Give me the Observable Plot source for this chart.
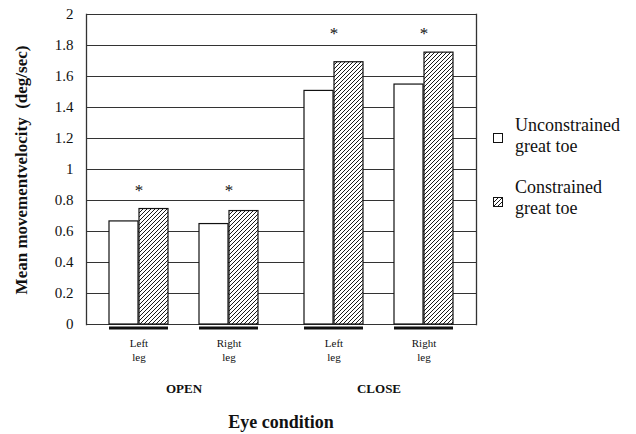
<!DOCTYPE html>
<html><head><meta charset="utf-8">
<script src="https://cdn.jsdelivr.net/npm/d3@7"></script>
<script src="https://cdn.jsdelivr.net/npm/@observablehq/plot@0.6"></script>
<style>
body{margin:0;background:#fff;font-family:"Liberation Serif","Times New Roman",serif;color:#111;}
#wrap{position:relative;width:636px;height:434px;overflow:hidden;}
#ytitle{position:absolute;left:22px;top:170px;transform:translate(-50%,-50%) rotate(-90deg);white-space:nowrap;font-family:"Liberation Serif",serif;font-weight:bold;font-size:17px;line-height:20px;}
#caption{position:absolute;left:86px;width:390px;top:410px;text-align:center;font-family:"Liberation Serif",serif;font-weight:bold;font-size:18px;line-height:24px;}
.lg-box{position:absolute;width:8px;height:8px;border:1.3px solid #111;}
.lg-text{position:absolute;left:515px;font-family:"Liberation Serif",serif;font-size:18px;line-height:21px;white-space:nowrap;}
</style></head>
<body>
<svg width="0" height="0" style="position:absolute"><defs>
<pattern id="hatch" patternUnits="userSpaceOnUse" width="4" height="4">
<rect width="4" height="4" fill="white"/>
<path d="M-1,1 l2,-2 M0,4 l4,-4 M3,5 l2,-2" stroke="black" stroke-width="0.9"/>
</pattern></defs></svg>
<div id="wrap">
<div id="chart"></div>
<div id="ytitle">Mean movementvelocity&nbsp;&nbsp;(deg/sec)</div>
<div id="caption">Eye condition</div>
<div class="lg-box" style="left:493px;top:133px;background:#fff"></div>
<div class="lg-text" style="top:115px">Unconstrained<br>great toe</div>
<div class="lg-box" style="left:493px;top:197px;"><svg width="8" height="8" style="display:block"><rect width="8" height="8" fill="url(#hatch)"/></svg></div>
<div class="lg-text" style="top:177px">Constrained<br>great toe</div>
</div>
<script>
const eyes = ["OPEN", "CLOSE"];
const legs = ["Left leg", "Right leg"];
const conditions = ["Unconstrained great toe", "Constrained great toe"];
const unconstrained = [0.665, 0.648, 1.507, 1.548];
const constrained = [0.745, 0.732, 1.692, 1.754];
const sigY = [0.875, 1.89];
const yTicks = [0, 0.2, 0.4, 0.6, 0.8, 1, 1.2, 1.4, 1.6, 1.8, 2];

const rows = eyes.flatMap((e, i) => legs.map((l, j) => ({
  eye: e, leg: l, u: unconstrained[i * 2 + j], c: constrained[i * 2 + j], s: sigY[i]
})));

const chart = Plot.plot({
  width: 636, height: 408,
  marginLeft: 86, marginRight: 160, marginTop: 14, marginBottom: 84,
  style: {fontFamily: "'Liberation Serif', 'Times New Roman', serif", fontSize: "15px", color: "#111", background: "white"},
  fx: {domain: eyes, padding: 0, axis: null},
  x: {domain: legs, paddingInner: 0.34, paddingOuter: 0.247, axis: null},
  y: {domain: [0, 2]},
  marks: [
    Plot.ruleY(yTicks, {stroke: "#333", strokeWidth: 1.1}),
    Plot.frame({anchor: "left", fx: ["OPEN"], stroke: "#333", strokeWidth: 1.3}),
    Plot.frame({anchor: "right", fx: ["CLOSE"], stroke: "#333", strokeWidth: 1.3}),
    Plot.barY(rows, {fx: "eye", x: "leg", y: "u", fill: "white", stroke: "#111", strokeWidth: 1.2, insetRight: 30}),
    Plot.barY(rows, {fx: "eye", x: "leg", y: "c", fill: "url(#hatch)", stroke: "#111", strokeWidth: 1.2, insetLeft: 30}),
    Plot.tickY(rows, {fx: "eye", x: "leg", y: 0, stroke: "#111", strokeWidth: 3, dy: 3.5}),
    Plot.text(rows, {fx: "eye", x: "leg", y: "s", text: () => "*", fontSize: 17, dy: 2}),
    Plot.text(rows, {fx: "eye", x: "leg", text: d => d.leg.replace(" ", "\n"), frameAnchor: "bottom", lineAnchor: "top", dy: 12, fontSize: 11, lineHeight: 1.3}),
    Plot.text(eyes, {fx: d => d, text: d => d, frameAnchor: "bottom", dy: 68, fontWeight: "bold", fontSize: 13}),
    Plot.axisY({ticks: yTicks, tickSize: 0, tickPadding: 13, tickFormat: d => String(d), fontSize: 15, label: null})
  ]
});
document.getElementById("chart").appendChild(chart);
</script>
</body></html>
